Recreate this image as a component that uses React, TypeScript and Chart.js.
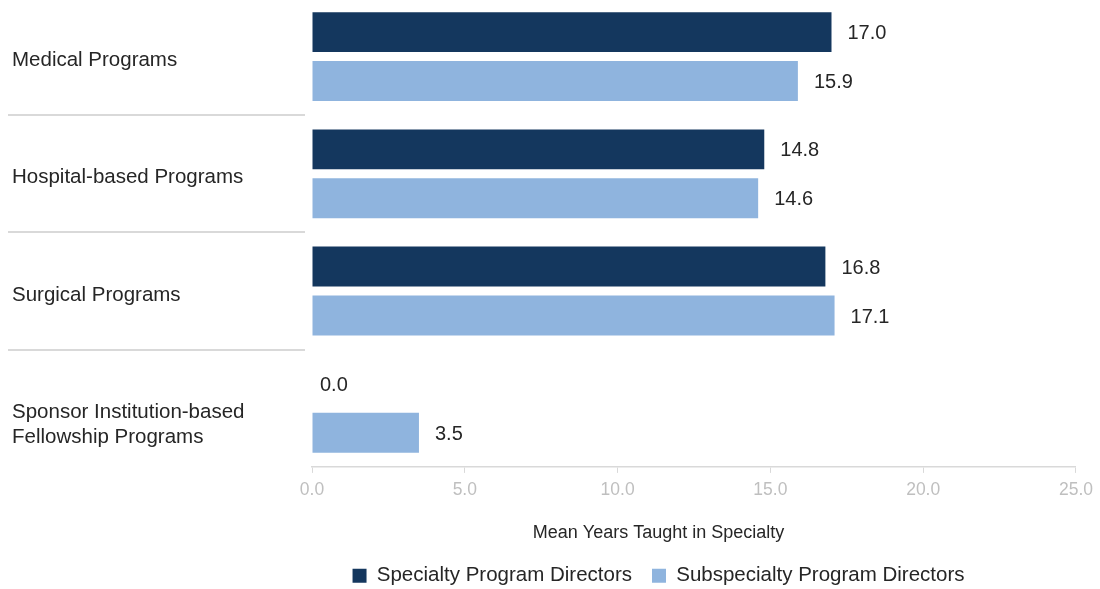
import React, { useEffect, useRef } from "react";
import { Chart, registerables } from "chart.js";

Chart.register(...registerables);

const categories: (string | string[])[] = [
  "Medical Programs",
  "Hospital-based Programs",
  "Surgical Programs",
  ["", "Sponsor Institution-based", "Fellowship Programs"],
];
const seriesNames = ["Specialty Program Directors", "Subspecialty Program Directors"];
const specialtyValues = [17.0, 14.8, 16.8, 0.0];
const subspecialtyValues = [15.9, 14.6, 17.1, 3.5];
const seriesColors = ["#14375E", "#8FB4DE"];
const xMin = 0;
const xMax = 25;
const xStep = 5;
const axisTitle = "Mean Years Taught in Specialty";

const FONT = "'Liberation Sans', Arial, sans-serif";
const TEXT = "#262626";
const LIGHT_LINE = "#D9D9D9";

export default function App() {
  const ref = useRef<HTMLCanvasElement | null>(null);

  useEffect(() => {
    const canvas = ref.current;
    if (!canvas) return;

    const separatorPlugin = {
      id: "separators",
      beforeDatasetsDraw(chart: any) {
        const ys = chart.scales.y;
        const ctx = chart.ctx;
        ctx.save();
        ctx.strokeStyle = LIGHT_LINE;
        ctx.lineWidth = 2;
        for (let i = 0; i < categories.length - 1; i++) {
          const y = Math.round((ys.getPixelForValue(i) + ys.getPixelForValue(i + 1)) / 2);
          ctx.beginPath();
          ctx.moveTo(-2, y);
          ctx.lineTo(297, y);
          ctx.stroke();
        }
        ctx.restore();
      },
    };

    const valueLabelPlugin = {
      id: "valueLabels",
      afterDatasetsDraw(chart: any) {
        const ctx = chart.ctx;
        ctx.save();
        ctx.font = `20px ${FONT}`;
        ctx.fillStyle = TEXT;
        ctx.textAlign = "left";
        ctx.textBaseline = "middle";
        chart.data.datasets.forEach((ds: any, d: number) => {
          const meta = chart.getDatasetMeta(d);
          meta.data.forEach((bar: any, i: number) => {
            const v = ds.data[i] as number;
            const x = bar.x + (v === 0 ? 8 : 16);
            ctx.fillText(v.toFixed(1), x, bar.y + 1.5);
          });
        });
        ctx.restore();
      },
    };

    const legendShiftPlugin = {
      id: "legendShift",
      afterLayout(chart: any) {
        const lg = chart.legend;
        if (lg) {
          lg.left += 114;
          lg.right += 114;
        }
      },
    };

    const chart = new Chart(canvas, {
      type: "bar",
      data: {
        labels: categories as any,
        datasets: [
          {
            label: seriesNames[0],
            data: specialtyValues,
            backgroundColor: seriesColors[0],
            categoryPercentage: 0.835,
            barPercentage: 0.816,
          },
          {
            label: seriesNames[1],
            data: subspecialtyValues,
            backgroundColor: seriesColors[1],
            categoryPercentage: 0.835,
            barPercentage: 0.816,
          },
        ],
      },
      options: {
        indexAxis: "y",
        animation: false,
        responsive: false,
        layout: { padding: { top: 2, left: 4, right: 23, bottom: -7 } },
        plugins: {
          tooltip: { enabled: false },
          legend: {
            position: "bottom",
            align: "center",
            labels: {
              boxWidth: 14,
              boxHeight: 14,
              padding: 20,
              color: TEXT,
              font: { family: FONT, size: 20.5 },
            },
            title: {
              display: true,
              text: axisTitle,
              color: TEXT,
              font: { family: FONT, size: 18 },
              padding: { top: 23, bottom: 0 },
            },
          },
        },
        scales: {
          x: {
            type: "linear",
            min: xMin,
            max: xMax,
            ticks: {
              stepSize: xStep,
              color: "#BFBFBF",
              padding: 7,
              font: { family: FONT, size: 17.5 },
              callback: (v: any) => Number(v).toFixed(1),
            },
            grid: {
              display: true,
              drawOnChartArea: false,
              drawTicks: true,
              tickLength: 6,
              color: LIGHT_LINE,
            },
            border: { display: true, color: LIGHT_LINE, width: 1.5 },
            afterFit(scale: any) {
              scale.height = 34;
            },
          },
          y: {
            type: "category",
            grid: { display: false },
            border: { display: false },
            ticks: {
              crossAlign: "far",
              color: TEXT,
              labelOffset: 4,
              font: { family: FONT, size: 20.5 },
            },
            afterFit(scale: any) {
              scale.width = 300;
              scale.paddingTop = 0;
              scale.paddingBottom = 0;
            },
          },
        },
      },
      plugins: [separatorPlugin, valueLabelPlugin, legendShiftPlugin],
    } as any);

    return () => chart.destroy();
  }, []);

  return (
    <div style={{ position: "absolute", left: 8, top: -4, width: 1092, height: 593 }}>
      <canvas ref={ref} width={1092} height={593} style={{ display: "block" }} />
    </div>
  );
}
